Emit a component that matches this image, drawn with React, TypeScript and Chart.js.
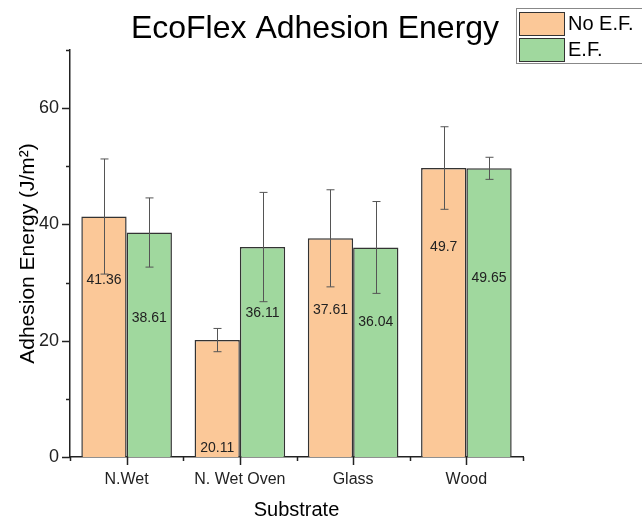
import React, { useEffect, useRef } from "react";
import { Chart, registerables } from "chart.js";

Chart.register(...registerables);

const categories = ["N.Wet", "N. Wet Oven", "Glass", "Wood"];
const noEF = [41.36, 20.11, 37.61, 49.7];
const noEFErr = [9.9, 2.0, 8.35, 7.1];
const withEF = [38.61, 36.11, 36.04, 49.65];
const withEFErr = [5.95, 9.4, 7.9, 1.9];
// vertical position (data units) of each value label inside its bar
const noEFLabelAt = [30.5, 1.5, 25.2, 36.1];
const withEFLabelAt = [23.8, 24.8, 23.2, 30.8];
const yTicks = [0, 10, 20, 30, 40, 50, 60, 70];

const FONT = "'Liberation Sans', Arial, Helvetica, sans-serif";
const ORANGE = "#FBC898";
const GREEN = "#A0D89E";

const decorPlugin = {
  id: "decor",
  afterDatasetsDraw(chart: any) {
    const { ctx } = chart;
    const xs = chart.scales.x;
    const ys = chart.scales.y;
    const errs = [noEFErr, withEFErr];
    const labs = [noEFLabelAt, withEFLabelAt];
    ctx.save();
    // error bars
    chart.data.datasets.forEach((ds: any, di: number) => {
      const meta = chart.getDatasetMeta(di);
      meta.data.forEach((el: any, i: number) => {
        const v = ds.data[i];
        const e = errs[di][i];
        const x = Math.round(el.x) + 0.5;
        const yt = ys.getPixelForValue(v + e);
        const yb = ys.getPixelForValue(v - e);
        ctx.strokeStyle = "#555";
        ctx.lineWidth = 1;
        ctx.beginPath();
        ctx.moveTo(x, yt);
        ctx.lineTo(x, yb);
        ctx.moveTo(x - 4, yt);
        ctx.lineTo(x + 4, yt);
        ctx.moveTo(x - 4, yb);
        ctx.lineTo(x + 4, yb);
        ctx.stroke();
      });
    });
    // value labels
    ctx.fillStyle = "#222";
    ctx.font = `14px ${FONT}`;
    ctx.textAlign = "center";
    ctx.textBaseline = "middle";
    chart.data.datasets.forEach((ds: any, di: number) => {
      const meta = chart.getDatasetMeta(di);
      meta.data.forEach((el: any, i: number) => {
        ctx.fillText(String(ds.data[i]), el.x, ys.getPixelForValue(labs[di][i]));
      });
    });
    // tick marks
    ctx.strokeStyle = "#222";
    ctx.lineWidth = 1.5;
    const ax = xs.left;
    yTicks.forEach((t) => {
      const y = Math.round(ys.getPixelForValue(t)) + 0.5;
      const len = t % 20 === 0 ? 8 : 4;
      ctx.beginPath();
      ctx.moveTo(ax - len, y);
      ctx.lineTo(ax, y);
      ctx.stroke();
    });
    const by = ys.bottom;
    const n = categories.length;
    const step = (xs.right - xs.left) / n;
    for (let i = 0; i <= n; i++) {
      const x = Math.round(xs.left + step * i) + 0.5;
      ctx.beginPath();
      ctx.moveTo(x, by);
      ctx.lineTo(x, by + 4);
      ctx.stroke();
    }
    for (let i = 0; i < n; i++) {
      const x = Math.round(xs.getPixelForValue(i)) + 0.5;
      ctx.beginPath();
      ctx.moveTo(x, by);
      ctx.lineTo(x, by + 8);
      ctx.stroke();
    }
    // title
    ctx.fillStyle = "#000";
    ctx.font = `32px ${FONT}`;
    ctx.textAlign = "center";
    ctx.textBaseline = "middle";
    ctx.fillText("EcoFlex Adhesion Energy", 315, 29);
    // legend
    ctx.strokeStyle = "#888";
    ctx.lineWidth = 1;
    ctx.strokeRect(516.5, 8.5, 140, 55);
    const items = [
      { label: "No E.F.", color: ORANGE },
      { label: "E.F.", color: GREEN },
    ];
    items.forEach((it, k) => {
      const y0 = 12 + k * 26;
      ctx.fillStyle = it.color;
      ctx.fillRect(519.5, y0 + 0.5, 45, 23);
      ctx.strokeStyle = "#333";
      ctx.strokeRect(519.5, y0 + 0.5, 45, 23);
      ctx.fillStyle = "#000";
      ctx.font = `20px ${FONT}`;
      ctx.textAlign = "left";
      ctx.fillText(it.label, 568, y0 + 12);
    });
    ctx.restore();
  },
};

export default function App() {
  const ref = useRef<HTMLCanvasElement | null>(null);
  useEffect(() => {
    if (!ref.current) return;
    const chart = new Chart(ref.current, {
      type: "bar",
      data: {
        labels: categories,
        datasets: [
          {
            label: "No E.F.",
            data: noEF,
            backgroundColor: ORANGE,
            borderColor: "#333",
            borderWidth: 1.5,
            categoryPercentage: 0.8,
            barPercentage: 1,
          },
          {
            label: "E.F.",
            data: withEF,
            backgroundColor: GREEN,
            borderColor: "#333",
            borderWidth: 1.5,
            categoryPercentage: 0.8,
            barPercentage: 1,
          },
        ],
      },
      options: {
        responsive: false,
        animation: false,
        layout: { padding: { left: 0, right: 119, top: 50, bottom: 0 } },
        plugins: {
          legend: { display: false },
          title: { display: false },
          tooltip: { enabled: false },
        },
        scales: {
          x: {
            offset: true,
            grid: { display: false, drawTicks: false },
            border: { display: true, color: "#222", width: 1.5 },
            ticks: {
              color: "#222",
              font: { family: FONT, size: 16 },
              padding: 13,
              maxRotation: 0,
            },
            title: {
              display: true,
              text: "Substrate",
              color: "#000",
              font: { family: FONT, size: 20, lineHeight: 0.7 },
              padding: 0,
            },
            afterFit: (s: any) => {
              s.height = 60;
            },
          },
          y: {
            min: 0,
            max: 70,
            grid: { display: false, drawTicks: false },
            border: { display: true, color: "#222", width: 1.5 },
            ticks: {
              stepSize: 10,
              color: "#222",
              font: { family: FONT, size: 18 },
              padding: 11,
              callback: (v: any) => (v % 20 === 0 && v !== 70 ? String(v) : ""),
            },
            title: {
              display: true,
              text: "Adhesion Energy (J/m²)",
              color: "#000",
              font: { family: FONT, size: 21 },
              padding: { top: 16, bottom: 0 },
            },
            afterFit: (s: any) => {
              s.width = 70;
            },
          },
        },
      },
      plugins: [decorPlugin],
    });
    return () => chart.destroy();
  }, []);
  return (
    <div style={{ position: "absolute", left: 0, top: 0, width: 642, height: 517, background: "#fff" }}>
      <canvas ref={ref} width={642} height={517} />
    </div>
  );
}
